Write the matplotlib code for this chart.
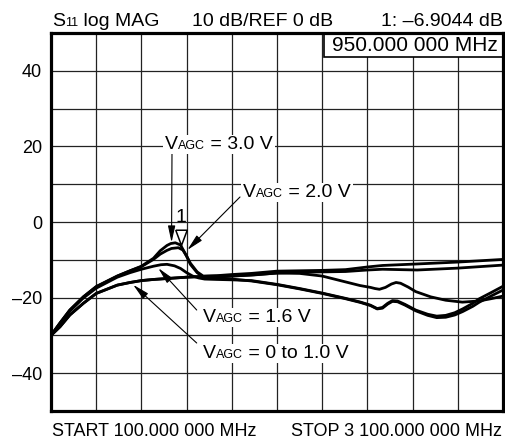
import matplotlib
matplotlib.use('Agg')
import matplotlib.pyplot as plt
from matplotlib.patches import Rectangle
from matplotlib.transforms import offset_copy

FONT = 'Liberation Sans'
plt.rcParams['font.family'] = [FONT, 'DejaVu Sans']

# ---------------- data (MHz, dB) ----------------
freq_3v0 = [100, 160, 225, 315, 400, 540, 625, 700, 780, 825, 870, 895, 925, 960, 990, 1025,
            1070, 1110, 1200, 1300, 1430, 1600, 1750, 1900, 2055, 2200, 2300, 2530, 2800, 3100]
db_3v0 = [-30, -26.7, -23.3, -19.8, -17.1, -14.3, -12.9, -11.7, -9.6, -7.6, -6.2, -5.7, -5.5,
          -6.1, -8.3, -10.9, -13.2, -14.3, -14.2, -13.9, -13.6, -13.0, -12.9, -12.8, -12.6,
          -11.9, -11.5, -11.1, -10.6, -9.9]

freq_2v0 = [100, 160, 225, 315, 400, 540, 625, 700, 780, 825, 870, 900, 945, 975, 1000, 1025,
            1070, 1110, 1200, 1300, 1450, 1600, 1750, 1900, 2050, 2150, 2220, 2250, 2280, 2320,
            2360, 2390, 2420, 2470, 2520, 2620, 2720, 2830, 2940, 3020, 3100]
db_2v0 = [-30, -26.7, -23.3, -19.8, -17.1, -14.3, -12.9, -11.8, -9.9, -8.5, -7.5, -7.0, -6.8,
          -7.4, -9.0, -11.2, -13.4, -14.6, -14.6, -14.3, -14.0, -13.5, -13.6, -14.3, -15.8,
          -16.8, -17.3, -17.6, -17.8, -17.3, -16.4, -16.0, -16.2, -17.2, -18.4, -19.8, -20.7,
          -21.2, -20.9, -20.3, -19.6]

freq_1v6 = [100, 160, 225, 315, 400, 540, 625, 700, 780, 830, 870, 920, 960, 1000, 1040, 1080,
            1120, 1200, 1300, 1430, 1600, 1750, 1900, 2055, 2155, 2220, 2265, 2300, 2335, 2366,
            2400, 2450, 2521, 2600, 2660, 2720, 2780, 2832, 2900, 2943, 3020, 3100]
db_1v6 = [-30, -26.9, -23.6, -20.1, -17.5, -14.6, -13.4, -12.5, -11.7, -11.3, -11.2, -11.6,
          -12.3, -13.4, -14.3, -14.8, -15.1, -15.2, -15.3, -15.5, -16.5, -17.6, -18.8, -20.2,
          -21.2, -22.0, -22.9, -22.6, -21.5, -20.8, -20.9, -21.8, -23.3, -24.4, -24.9, -24.7,
          -24.0, -23.0, -21.5, -20.3, -18.7, -17.0]

freq_1v0 = [100, 160, 225, 315, 400, 540, 625, 700, 780, 890, 1000, 1110, 1200, 1300, 1430,
            1600, 1750, 1900, 2055, 2155, 2220, 2265, 2300, 2335, 2366, 2400, 2450, 2521, 2600,
            2660, 2720, 2780, 2832, 2900, 2943, 3020, 3100]
db_1v0 = [-30, -27.7, -24.6, -21.5, -18.9, -16.7, -16.0, -15.5, -15.2, -14.9, -14.6, -14.4,
          -14.8, -15.1, -15.6, -16.6, -17.7, -18.9, -20.3, -21.3, -22.1, -23.0, -22.8, -21.7,
          -21.0, -21.1, -22.0, -23.5, -24.7, -25.3, -25.2, -24.6, -23.7, -22.3, -21.2, -19.6,
          -18.0]

freq_0v0 = [100, 160, 225, 315, 400, 540, 625, 700, 780, 890, 1000, 1110, 1200, 1300, 1430,
            1600, 1750, 1900, 2055, 2200, 2300, 2530, 2800, 3100]
db_0v0 = [-30, -27.7, -24.6, -21.5, -18.9, -16.7, -16.0, -15.5, -15.2, -14.9, -14.6, -14.4,
          -14.3, -14.3, -14.0, -13.5, -13.3, -13.2, -13.1, -12.7, -12.5, -12.7, -12.2, -11.4]

marker_freq = 950
marker_db = -6.9044

y_ticks = list(range(-50, 51, 10))
y_labels = {40: '40', 20: '20', 0: '0', -20: '\u201320', -40: '\u201340'}
x_ticks = list(range(100, 3101, 300))

# ---------------- figure ----------------
W, H = 506, 440
fig = plt.figure(figsize=(W / 100, H / 100), dpi=100)
fig.patch.set_facecolor('white')
ax = fig.add_axes([51 / W, 29 / H, 452 / W, 378 / H])
ax.set_xlim(100, 3100)
ax.set_ylim(-50, 50)
ax.set_xticks(x_ticks)
ax.set_xticklabels([''] * len(x_ticks))
ax.set_yticks(y_ticks)
ax.set_yticklabels([y_labels.get(v, '') for v in y_ticks], fontsize=13)
ax.tick_params(length=0, pad=6.5)
ax.set_axisbelow(True)
ax.grid(True, color='#222222', lw=0.9)
for s in ax.spines.values():
    s.set_linewidth(2.3)
    s.set_zorder(5)

for f, d in [(freq_0v0, db_0v0), (freq_1v0, db_1v0), (freq_1v6, db_1v6),
             (freq_2v0, db_2v0), (freq_3v0, db_3v0)]:
    ax.plot(f, d, color='black', lw=2.0, solid_joinstyle='round', solid_capstyle='round',
            zorder=3)

# marker box
ax.add_patch(Rectangle((0.603, 0.9365), 0.397, 0.0635, transform=ax.transAxes,
                       facecolor='white', edgecolor='black', lw=1.2, zorder=2))
ax.text(0.988, 0.952, '950.000 000 MHz', transform=ax.transAxes, ha='right',
        va='baseline', fontsize=15, zorder=6)

# marker triangle (open, closed outline) and "1"
tri = [(-0.75, 2.0), (0.75, 2.0), (0.0, 0.0), (-0.75, 2.0)]
mtr = offset_copy(ax.transData, fig=fig, x=2, y=3, units='dots')
ax.plot([marker_freq], [marker_db], marker=tri, ms=22, mfc='white', mec='black', mew=1.1,
        ls='none', transform=mtr, zorder=6)
ax.annotate('1', xy=(marker_freq, marker_db), xytext=(2, 26), textcoords='offset pixels',
            ha='center', va='baseline', fontsize=14, zorder=6)

renderer = fig.canvas.get_renderer()


def rich(x, yb, parts, bg=False, ha='left'):
    """Draw text pieces along one baseline, x/yb in pixels from top-left."""
    objs = []
    cur = x
    for s, fs in parts:
        t = fig.text(cur / W, 1 - yb / H, s, fontsize=fs, va='baseline', ha='left', zorder=8)
        bb = t.get_window_extent(renderer)
        objs.append(t)
        cur += bb.width
    total = cur - x
    if ha == 'right':
        for t in objs:
            px, py = t.get_position()
            t.set_position((px - total / W, py))
    if bg:
        bbs = [t.get_window_extent(renderer) for t in objs]
        x0 = min(b.x0 for b in bbs) - 2
        x1 = max(b.x1 for b in bbs) + 2
        y0 = min(b.y0 for b in bbs) - 1
        y1 = max(b.y1 for b in bbs) + 1
        fig.patches.append(Rectangle((x0, y0), x1 - x0, y1 - y0, transform=None,
                                     facecolor='white', edgecolor='none', zorder=7))
    return objs


# header
rich(52, 26, [('S', 14), ('11', 9), (' log MAG', 14)])
rich(192, 26, [('10 dB/REF 0 dB', 14)])
rich(503, 26, [('1: \u20136.9044 dB', 14)], ha='right')
# footer
rich(52, 436, [('START 100.000 000 MHz', 13)])
rich(502, 436, [('STOP 3 100.000 000 MHz', 13)], ha='right')

# V_AGC labels
rich(165, 149, [('V', 14), ('AGC', 9), (' = 3.0 V', 14)], bg=True)
rich(243, 196.7, [('V', 14), ('AGC', 9), (' = 2.0 V', 14)], bg=True)
rich(203, 321.7, [('V', 14), ('AGC', 9), (' = 1.6 V', 14)], bg=True)
rich(203, 358.3, [('V', 14), ('AGC', 9), (' = 0 to 1.0 V', 14)], bg=True)

arrow_kw = dict(arrowstyle='-|>,head_length=1.0,head_width=0.22', lw=0.8, color='black',
                shrinkA=0, shrinkB=0)
arrows = [((172, 152), (900, -5.4)),
          ((240, 197), (1005, -7.4)),
          ((196.7, 310), (812, -12.2)),
          ((196.7, 343), (645, -16.6))]
for (tx, ty), tip in arrows:
    ax.annotate('', xy=tip, xycoords='data', xytext=(tx, H - ty), textcoords='figure pixels',
                arrowprops=arrow_kw, zorder=6)

fig.savefig('out.png', dpi=100, facecolor='white')
